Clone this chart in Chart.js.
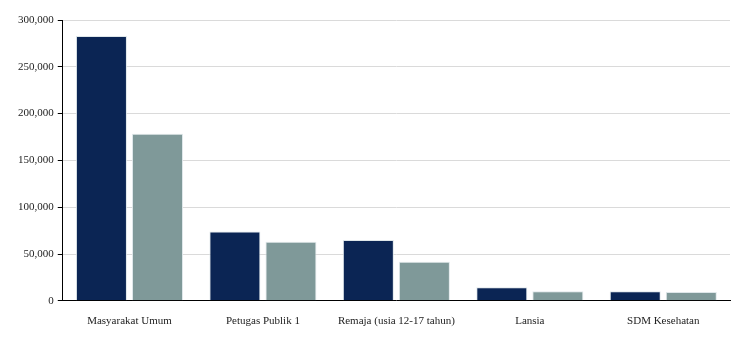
<!DOCTYPE html>
<html>
<head>
<meta charset="utf-8">
<script src="https://cdn.jsdelivr.net/npm/chart.js@4/dist/chart.umd.min.js"></script>
<style>
    html, body { margin: 0; padding: 0; background: #fff; }
</style>
</head>
<body>
<canvas id="myChart" width="750" height="337"></canvas>
<script>
var categories = ["Masyarakat Umum", "Petugas Publik 1", "Remaja (usia 12-17 tahun)", "Lansia", "SDM Kesehatan"];
var seriesA = [283000, 74000, 65000, 14500, 10200];
var seriesB = [178500, 63200, 41700, 10200, 9400];
var yTicks = [0, 50000, 100000, 150000, 200000, 250000, 300000];

var fontFamily = "'Liberation Serif', 'DejaVu Serif', serif";

var ctx = document.getElementById('myChart').getContext('2d');
var myChart = new Chart(ctx, {
    type: 'bar',
    data: {
        labels: categories,
        datasets: [
            {
                label: "Series 1",
                backgroundColor: "rgb(11, 37, 84)",
                borderColor: "rgba(220, 228, 232, 0.9)",
                borderWidth: 1,
                categoryPercentage: 0.84,
                barPercentage: 0.91,
                data: seriesA
            },
            {
                label: "Series 2",
                backgroundColor: "rgb(127, 153, 153)",
                borderColor: "rgba(220, 228, 232, 0.9)",
                borderWidth: 1,
                categoryPercentage: 0.84,
                barPercentage: 0.91,
                data: seriesB
            }
        ]
    },
    options: {
        responsive: false,
        animation: false,
        layout: { padding: { top: 20, right: 20, left: 14, bottom: -5 } },
        plugins: {
            legend: { display: false },
            tooltip: { enabled: false }
        },
        scales: {
            x: {
                grid: { display: false, drawTicks: false },
                border: { display: true, color: '#000', width: 1 },
                ticks: {
                    color: '#222',
                    padding: 14,
                    maxRotation: 0,
                    font: { family: fontFamily, size: 11 }
                }
            },
            y: {
                min: 0,
                max: 300000,
                afterBuildTicks: function (axis) {
                    axis.ticks = yTicks.map(function (v) { return { value: v }; });
                },
                grid: {
                    color: '#dadada',
                    tickColor: '#000',
                    tickLength: 5
                },
                border: { display: true, color: '#000', width: 1 },
                ticks: {
                    color: '#222',
                    padding: 4,
                    font: { family: fontFamily, size: 11 },
                    callback: function (v) { return v.toLocaleString('en-US'); }
                }
            }
        }
    }
});
</script>
</body>
</html>
